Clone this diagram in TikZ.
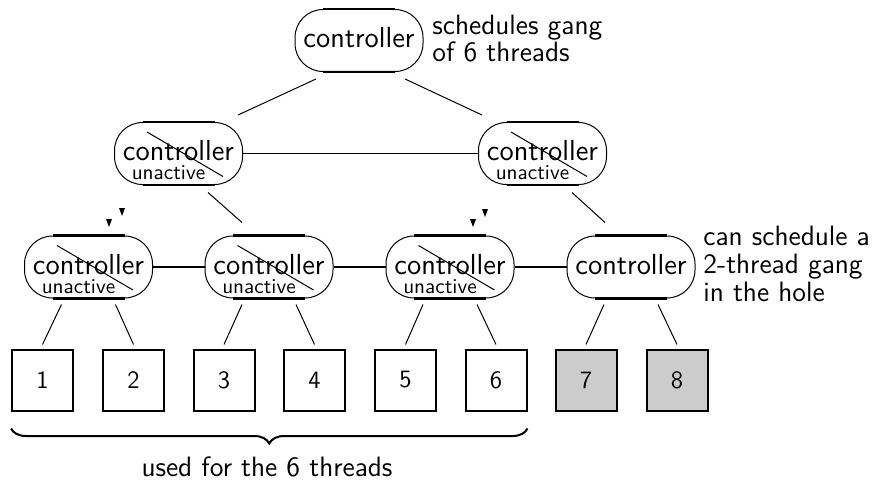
\documentclass[tikz,border=0pt]{standalone}
\usepackage{fontspec}
\renewcommand{\familydefault}{\sfdefault}
\usetikzlibrary{decorations.pathreplacing}
\newcommand\mkctrl[3]{%
  \node[ctrl] (#1) at (#2,#3) {};
  \draw[flat] ([xshift=-18pt]#1.north) -- ([xshift=18pt]#1.north);
  \draw[flat] ([xshift=-18pt]#1.south) -- ([xshift=18pt]#1.south);
  \node[ctxt] (#1t) at ([yshift=-19.5pt]#1.north) {controller};
}
\newcommand\mkunact[1]{%
  \node[utxt] (#1u) at ([xshift=-5pt,yshift=-28.75pt]#1.north) {unactive};
  \draw[strike] ([xshift=-15.75pt,yshift=10.75pt]#1.center) -- ([xshift=22.25pt,yshift=-11.5pt]#1.center);
}
\begin{document}
\begin{tikzpicture}[x=0.5pt,y=-0.5pt,
  ctrl/.style={draw, line width=0.5pt, minimum width=64pt, minimum height=31pt, rounded corners=14pt, inner sep=0pt},
  ctxt/.style={anchor=base, inner sep=0pt, font=\fontsize{14.5}{17}\selectfont},
  utxt/.style={anchor=base, inner sep=0pt, font=\fontsize{10.6}{13}\selectfont},
  lbl/.style={anchor=base west, inner sep=0pt, font=\fontsize{14}{17}\selectfont},
  sq/.style={draw, line width=1pt, minimum size=30.5pt, inner sep=0pt, font=\fontsize{12.5}{15}\selectfont},
  hole/.style={sq, fill=black!20},
  conn/.style={line width=0.5pt},
  hline/.style={line width=0.8pt},
  strike/.style={line width=0.5pt},
  flat/.style={line width=1.1pt},
  tri/.style={fill=black}
]
\useasboundingbox (0,0) rectangle (883,481);

% controllers
\mkctrl{c0}{359}{40.5}
\mkctrl{c2a}{178.5}{153.5}
\mkctrl{c2b}{542.5}{153.5}
\mkctrl{c3a}{88.5}{267}
\mkctrl{c3b}{269}{267}
\mkctrl{c3c}{450}{267}
\mkctrl{c3d}{631}{267}
\mkunact{c2a}
\mkunact{c2b}
\mkunact{c3a}
\mkunact{c3b}
\mkunact{c3c}

% processors
\node[sq] (s1) at (42.5,380) {1};
\node[sq] (s2) at (133.5,380) {2};
\node[sq] (s3) at (224,380) {3};
\node[sq] (s4) at (314.5,380) {4};
\node[sq] (s5) at (405.5,380) {5};
\node[sq] (s6) at (496,380) {6};
\node[hole] (s7) at (586,380) {7};
\node[hole] (s8) at (677,380) {8};

% tree connectors
\draw[conn] ([xshift=-21.5pt,yshift=-3.5pt]c0.south) -- ([xshift=29.75pt,yshift=3.5pt]c2a.north);
\draw[conn] ([xshift=23pt,yshift=-3.5pt]c0.south) -- ([xshift=-30.25pt,yshift=3.5pt]c2b.north);
\draw[conn] ([xshift=14.75pt,yshift=-3.75pt]c2a.south) -- ([xshift=-13.5pt,yshift=6.5pt]c3b.north);
\draw[conn] ([xshift=14.75pt,yshift=-3.75pt]c2b.south) -- ([xshift=-13pt,yshift=6.5pt]c3d.north);

% sibling links
\draw[hline] (c2a.east) -- (c2b.west);
\draw[hline] (c3a.east) -- (c3b.west);
\draw[hline] (c3b.east) -- (c3c.west);
\draw[hline] (c3c.east) -- (c3d.west);

% controller to processors
\draw[conn] ([xshift=-13.5pt,yshift=-3pt]c3a.south) -- ([yshift=2pt]s1.north);
\draw[conn] ([xshift=13.5pt,yshift=-3pt]c3a.south) -- ([yshift=2pt]s2.north);
\draw[conn] ([xshift=-13.5pt,yshift=-3pt]c3b.south) -- ([yshift=2pt]s3.north);
\draw[conn] ([xshift=13.5pt,yshift=-3pt]c3b.south) -- ([yshift=2pt]s4.north);
\draw[conn] ([xshift=-13.5pt,yshift=-3pt]c3c.south) -- ([yshift=2pt]s5.north);
\draw[conn] ([xshift=13.5pt,yshift=-3pt]c3c.south) -- ([yshift=2pt]s6.north);
\draw[conn] ([xshift=-13.5pt,yshift=-3pt]c3d.south) -- ([yshift=2pt]s7.north);
\draw[conn] ([xshift=13.5pt,yshift=-3pt]c3d.south) -- ([yshift=2pt]s8.north);

% small arrowheads
\fill[tri] (106,219) -- (112,219) -- (109,227) -- cycle;
\fill[tri] (119,208) -- (125,208) -- (122,216) -- cycle;
\fill[tri] (470,219) -- (476,219) -- (473,227) -- cycle;
\fill[tri] (482,209) -- (488,209) -- (485,217) -- cycle;

% labels
\node[lbl] (la1) at (432,35) {schedules gang};
\node[lbl] (la2) at (432,62) {of 6 threads};
\node[lbl] (lb1) at (703,245) {can schedule a};
\node[lbl] (lb2) at (703,273) {2-thread gang};
\node[lbl] (lb3) at (703,301) {in the hole};

% brace
\draw[line width=1pt, decorate, decoration={brace, mirror, amplitude=7.5pt}]
  ([yshift=-8.5pt]s1.south west) -- ([yshift=-8.5pt]s6.south east);
\node[anchor=base, inner sep=0pt, font=\fontsize{14}{17}\selectfont] (used) at (267,476) {used for the 6 threads};
\end{tikzpicture}
\end{document}
